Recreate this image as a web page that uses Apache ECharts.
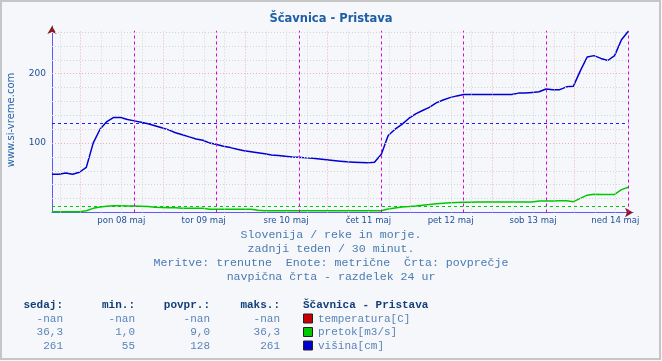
<!DOCTYPE html>
<html><head><meta charset="utf-8">
<script src="https://cdn.jsdelivr.net/npm/echarts@6/dist/echarts.min.js"></script>
<style>html,body{margin:0;padding:0;background:#f5f7fb}#c{width:662px;height:361px}</style>
</head><body><div id="c"></div><script>
// ---- data ----
const STEP_HOURS = 2; // one sample every 2 hours from Sun 07 May 00:00
const visina = [55,55,57,55,58,65,100,120,131,137,
  137,134,132,130,128,125,122,119,115,112,
  109,106,104,100,98,95.5,93.5,91,89,87.5,
  86,84.5,83,82,81,80,79.5,78.7,78,77,
  76,75,74,73,72.5,72,71.5,72.5,84,111,
  120,127,135.5,142,147,151.5,158,162,165.5,168,
  170,170,170,170,170,170,170,170,172,172,
  173,174,178,177,177,181,182,204,224,226,
  222,219,226,249,261];
const pretok = [1,1,1,1,1,2.5,6,8,9,9.7,
  9.6,9.4,9.3,9.1,8.8,7.4,7.2,7,7,6,
  6,6,6,4.6,4.6,4.6,4.6,4.6,4.6,4.6,
  3.1,2.6,2.6,2.6,2.6,2.6,2.6,2.6,2.6,2.6,
  2.6,2.6,2.6,2.6,2.6,2.6,2.6,2.6,2.6,5,
  6.5,7.8,8.6,9.5,10.6,11.5,12.5,13.5,14.2,14.5,
  14.8,14.8,15,15,15,15,15,15,15,15,
  15,16.4,16.6,16.6,16.8,16.9,15.6,20.3,25,26.4,
  26,26,26,33,36.3];
const temperatura = [];
const avgVisina = 128;
const avgPretok = 9.0;
const dayLabels = ['pon 08 maj','tor 09 maj','sre 10 maj','čet 11 maj','pet 12 maj','sob 13 maj','ned 14 maj'];
const dayHours = [24,48,72,96,120,144,168];
const yLabelValues = [100, 200];
const hGridValues = [20,40,60,80,100,120,140,160,180,200,220,240,260];
const hGridMajor = [100, 200];
const seriesNames = ['temperatura[C]','pretok[m3/s]','višina[cm]'];
const seriesColors = ['#cc0000','#00c800','#0000d0'];
const colSedaj = ['-nan','36,3','261'];
const colMin = ['-nan','1,0','55'];
const colPovpr = ['-nan','9,0','128'];
const colMaks = ['-nan','36,3','261'];
const infoLines = ['Slovenija / reke in morje.','zadnji teden / 30 minut.','Meritve: trenutne  Enote: metrične  Črta: povprečje','navpična črta - razdelek 24 ur'];

// ---- build ----
const toXY = arr => arr.map((v,i)=>[i*STEP_HOURS, v]);
const X_END = 168, X_MAX = 169.36, Y_MAX = 268.7, GRID_TOP_V = 262;

const gridLines = [];
for (let k = 0; k < 28; k++) {
  const h = 2.33 + 6*k;
  gridLines.push([{coord:[h,0], lineStyle:{color: k%4===1 ? '#efb0b0' : '#d4d4d4', type:[1,2], width:1}}, {coord:[h,GRID_TOP_V]}]);
}
hGridValues.forEach(v=>{
  const major = hGridMajor.includes(v);
  gridLines.push([{coord:[0,v], lineStyle:{color: major ? '#efb0b0' : '#d4d4d4', type:[1,2], width:1}}, {coord:[X_END,v]}]);
});
dayHours.forEach(h=>{
  gridLines.push([{coord:[h,0], lineStyle:{color:'#dd00dd', type:[3,3], width:1}}, {coord:[h,GRID_TOP_V]}]);
});

const mono = '"Liberation Mono","DejaVu Sans Mono",monospace';
const graphics = [
  {type:'rect', silent:true, shape:{x:1,y:1,width:659,height:358}, style:{fill:'none', stroke:'#c6c6c6', lineWidth:2}},
  {type:'text', silent:true, x:11, y:120, rotation:Math.PI/2, style:{text:'www.si-vreme.com', fill:'#2a62a8', font:'10px "DejaVu Sans"', textAlign:'center', textVerticalAlign:'middle'}}
];
infoLines.forEach((t,i)=>graphics.push({type:'text', silent:true, x:331, y:235+14*i, style:{text:t, fill:'#4a7ab2', font:'11.6px '+mono, textAlign:'center', textVerticalAlign:'middle'}}));
const headY = 305, rowY = [319, 332.5, 346];
const hdr = [['sedaj:',63],['min.:',135],['povpr.:',210],['maks.:',280]];
hdr.forEach(([t,x])=>graphics.push({type:'text', silent:true, x:x, y:headY, style:{text:t, fill:'#123f78', font:'bold 11px '+mono, textAlign:'right', textVerticalAlign:'middle'}}));
graphics.push({type:'text', silent:true, x:303, y:headY, style:{text:'Ščavnica - Pristava', fill:'#123f78', font:'bold 11px '+mono, textAlign:'left', textVerticalAlign:'middle'}});
[colSedaj,colMin,colPovpr,colMaks].forEach((col,ci)=>{
  col.forEach((t,ri)=>graphics.push({type:'text', silent:true, x:hdr[ci][1], y:rowY[ri], style:{text:t, fill:'#5a84b8', font:'11px '+mono, textAlign:'right', textVerticalAlign:'middle'}}));
});
seriesNames.forEach((n,ri)=>{
  graphics.push({type:'rect', silent:true, shape:{x:303.5,y:rowY[ri]-5,width:9,height:9}, style:{fill:seriesColors[ri], stroke:'#222', lineWidth:1}});
  graphics.push({type:'text', silent:true, x:318, y:rowY[ri], style:{text:n, fill:'#5a84b8', font:'11px '+mono, textAlign:'left', textVerticalAlign:'middle'}});
});

const chart = echarts.init(document.getElementById('c'));
chart.setOption({
  animation:false,
  backgroundColor:'#f5f7fb',
  title:{text:'Ščavnica - Pristava', left:'center', top:8, textStyle:{fontFamily:'DejaVu Sans', fontSize:11.5, fontWeight:'bold', color:'#1d5ea6'}},
  grid:{left:52, right:29, top:26, bottom:148.5},
  xAxis:[{
    type:'value', min:0, max:X_MAX, interval:24,
    axisLine:{lineStyle:{color:'#5a5aff', width:1}},
    axisTick:{show:false}, splitLine:{show:false},
    axisLabel:{margin:4, fontFamily:'DejaVu Sans', fontSize:8.5, color:'#1e4f96', padding:[0,26,0,0],
      formatter:v=>{const i=dayHours.indexOf(v);return i>=0?dayLabels[i]:'';}}
  },{
    type:'value', position:'bottom', min:0, max:X_MAX,
    axisLine:{symbol:['none','arrow'], symbolSize:[7,8], lineStyle:{color:'#8b1a1a', opacity:0}},
    axisTick:{show:false}, axisLabel:{show:false}, splitLine:{show:false}
  }],
  yAxis:[{
    type:'value', min:0, max:Y_MAX, interval:100,
    axisLine:{show:true, lineStyle:{color:'#5a5aff', width:1}},
    axisTick:{show:false}, splitLine:{show:false},
    axisLabel:{margin:6, fontFamily:'DejaVu Sans', fontSize:9, color:'#1e4f96',
      formatter:v=>yLabelValues.includes(v)?String(v):''}
  },{
    type:'value', position:'left', min:0, max:Y_MAX,
    axisLine:{show:true, symbol:['none','arrow'], symbolSize:[7,8], lineStyle:{color:'#8b1a1a', opacity:0}},
    axisTick:{show:false}, axisLabel:{show:false}, splitLine:{show:false}
  }],
  series:[
    {name:'grid', type:'line', data:[], z:1, silent:true,
      markLine:{silent:true, symbol:'none', label:{show:false}, animation:false, data:gridLines}},
    {name:seriesNames[0], type:'line', data:toXY(temperatura), showSymbol:false, lineStyle:{color:seriesColors[0]}},
    {name:seriesNames[1], type:'line', data:toXY(pretok), showSymbol:false, z:3,
      lineStyle:{color:seriesColors[1], width:1.5},
      markLine:{silent:true, symbol:'none', label:{show:false}, lineStyle:{color:seriesColors[1], type:[3,3], width:1},
        data:[[{coord:[0,avgPretok]},{coord:[X_END,avgPretok]}]]}},
    {name:seriesNames[2], type:'line', data:toXY(visina), showSymbol:false, z:4,
      lineStyle:{color:seriesColors[2], width:1.5},
      markLine:{silent:true, symbol:'none', label:{show:false}, lineStyle:{color:'#2020ff', type:[3,3], width:1},
        data:[[{coord:[0,avgVisina]},{coord:[X_END,avgVisina]}]]}}
  ],
  graphic:graphics
});
</script></body></html>
